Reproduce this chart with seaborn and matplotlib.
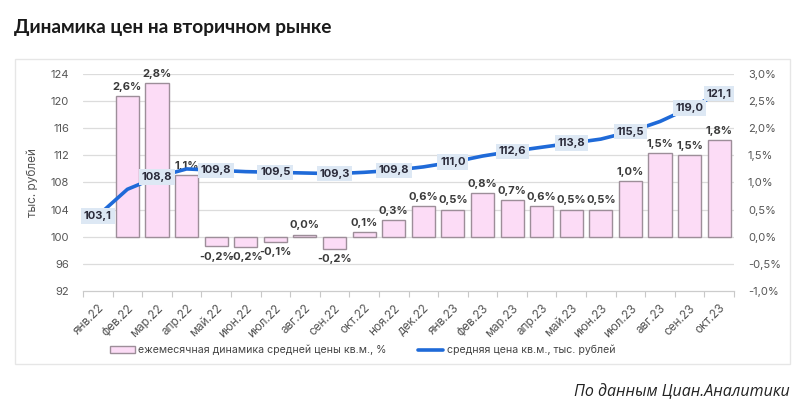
import numpy as np
import pandas as pd
import matplotlib
matplotlib.use("Agg")
import matplotlib.pyplot as plt
from matplotlib.patches import Patch, Rectangle
from matplotlib.lines import Line2D
from matplotlib.ticker import FixedLocator, FuncFormatter
from matplotlib.font_manager import FontProperties
import seaborn as sns

# ---------------- data ----------------
months = ["янв.22", "фев.22", "мар.22", "апр.22", "май.22", "июн.22", "июл.22",
          "авг.22", "сен.22", "окт.22", "ноя.22", "дек.22", "янв.23", "фев.23",
          "мар.23", "апр.23", "май.23", "июн.23", "июл.23", "авг.23", "сен.23",
          "окт.23"]
change_pct = [np.nan, 2.59, 2.83, 1.13, -0.17, -0.18, -0.09, 0.04, -0.22, 0.09,
              0.30, 0.57, 0.50, 0.81, 0.67, 0.57, 0.50, 0.50, 1.02, 1.54, 1.50, 1.78]
price = [103.1, 107.0, 108.8, 110.0, 109.8, 109.6, 109.5, 109.4, 109.3, 109.5,
         109.8, 110.3, 111.0, 111.9, 112.6, 113.2, 113.8, 114.4, 115.5, 117.0,
         119.0, 121.1]
price_labeled = [0, 2, 4, 6, 8, 10, 12, 14, 16, 18, 20, 21]
left_ticks = [92, 96, 100, 104, 108, 112, 116, 120, 124]
right_ticks = [-1.0, -0.5, 0.0, 0.5, 1.0, 1.5, 2.0, 2.5, 3.0]

title = "Динамика цен на вторичном рынке"
bar_legend = "ежемесячная динамика средней цены кв.м., %"
line_legend = "средняя цена кв.м., тыс. рублей"
ylabel_left = "тыс. рублей"
source = "По данным Циан.Аналитики"

df = pd.DataFrame({"month": months, "change": change_pct, "price": price})

# ---------------- style ----------------
sns.set_theme(style="white")
plt.rcParams["font.family"] = ["Inter", "DejaVu Sans"]

pink = "#fcdcf6"
bar_edge = "#9d8e99"
blue = "#1f6ad8"
label_bg = "#dde8f4"
txt = "#3a3a3a"
grid_c = "#dcdcdc"
tick_c = "#555555"

fig = plt.figure(figsize=(8, 4.15), dpi=100)
fig.patch.set_facecolor("white")

# chart frame
fig.add_artist(Rectangle((15 / 800, 1 - 364 / 415), 775 / 800, 305 / 415,
                         transform=fig.transFigure, fill=False,
                         edgecolor="#e6e6e6", linewidth=1))

ax = fig.add_axes([83 / 800, 1 - 291 / 415, (734 - 83) / 800, (291 - 74) / 415])

sns.barplot(data=df, x="month", y="change", order=months, ax=ax,
            color=pink, saturation=1, edgecolor=bar_edge, linewidth=1,
            width=0.78, errorbar=None, zorder=2)
ax.set_ylim(-1.0, 3.0)
ax.set_xlim(-0.5, len(months) - 0.5)

for y in right_ticks[1:]:
    ax.axhline(y, color=grid_c, linewidth=0.9, zorder=0)

for i, v in enumerate(change_pct):
    if np.isnan(v):
        continue
    lab = f"{v:.1f}".replace(".", ",") + "%"
    if lab == "-0,0%":
        lab = "0,0%"
    if v >= 0:
        ax.annotate(lab, (i, v), xytext=(0, 3), textcoords="offset points",
                    ha="center", va="bottom", fontsize=8, fontweight="bold",
                    color=txt, zorder=5)
    else:
        ax.annotate(lab, (i, v), xytext=(0, -4), textcoords="offset points",
                    ha="center", va="top", fontsize=8, fontweight="bold",
                    color=txt, zorder=5)

ax.set_ylabel("")
ax.set_xlabel("")

# twin axis for price
ax2 = ax.twinx()
sns.lineplot(x=np.arange(len(months)), y=df["price"], ax=ax2, color=blue,
             linewidth=2.6, zorder=3, solid_capstyle="butt")
ax2.set_ylim(92, 124)
ax2.set_xlabel("")

# percent axis ticks on the right
ax.yaxis.tick_right()
ax.yaxis.set_label_position("right")
ax.yaxis.set_major_locator(FixedLocator(right_ticks))
ax.yaxis.set_major_formatter(FuncFormatter(lambda v, p: f"{v:.1f}".replace(".", ",") + "%"))
ax.tick_params(axis="y", right=False, left=False, labelright=True, labelleft=False,
               labelsize=8, labelcolor=tick_c, pad=4)

# price axis ticks on the left
ax2.yaxis.tick_left()
ax2.yaxis.set_label_position("left")
ax2.yaxis.set_major_locator(FixedLocator(left_ticks))
ax2.tick_params(axis="y", right=False, left=False, labelleft=True, labelright=False,
                labelsize=8, labelcolor=tick_c, pad=4)
ax2.set_ylabel(ylabel_left, fontsize=8.5, color=tick_c, labelpad=8)

for i in price_labeled:
    ax2.text(i, price[i], f"{price[i]:.1f}".replace(".", ","), ha="center",
             va="center", fontsize=8, fontweight="bold", color="#2b2b3a",
             zorder=6,
             bbox=dict(boxstyle="square,pad=0.25", facecolor=label_bg,
                       edgecolor="none"))

# x axis
ax.set_xticks(np.arange(len(months)))
ax.set_xticklabels(months, rotation=45, ha="right", rotation_mode="anchor",
                   fontsize=8.5, color=tick_c)
ax.set_xticks(np.arange(len(months) + 1) - 0.5, minor=True)
ax.tick_params(axis="x", which="major", length=0, pad=8)
ax.tick_params(axis="x", which="minor", length=4, color="#c8c8c8", width=0.8,
               direction="out", bottom=True)
ax.set_xlim(-0.5, len(months) - 0.5)

for a in (ax, ax2):
    for s in ("top", "left", "right", "bottom"):
        a.spines[s].set_visible(False)
ax.spines["bottom"].set_visible(True)
ax.spines["bottom"].set_color("#cccccc")
ax.spines["bottom"].set_linewidth(0.9)
ax.set_zorder(1)
ax2.set_zorder(2)
ax2.patch.set_visible(False)

# legend
handles = [Patch(facecolor=pink, edgecolor=bar_edge, linewidth=1),
           Line2D([0], [0], color=blue, linewidth=2.6)]
leg_font = FontProperties(family=["Inter", "DejaVu Sans"], size=7.6)
fig.legend(handles, [bar_legend, line_legend], loc="center left",
           bbox_to_anchor=(100 / 800, 1 - 350 / 415), ncol=2, frameon=False,
           prop=leg_font, handlelength=2.4, handleheight=0.55, handletextpad=0.3,
           columnspacing=3.0, labelcolor="#444444")

# title and source
fig.text(14 / 800, 1 - 28 / 415, title, fontsize=13.8, fontweight="bold",
         color="#1a1a1a", va="center", ha="left", family=["Lato", "DejaVu Sans"])
fig.text(790 / 800, 1 - 392 / 415, source, fontsize=11.5, style="italic",
         color="#222222", va="center", ha="right",
         family=["Open Sans", "DejaVu Sans"])

fig.savefig("out.png", dpi=100, facecolor="white")
